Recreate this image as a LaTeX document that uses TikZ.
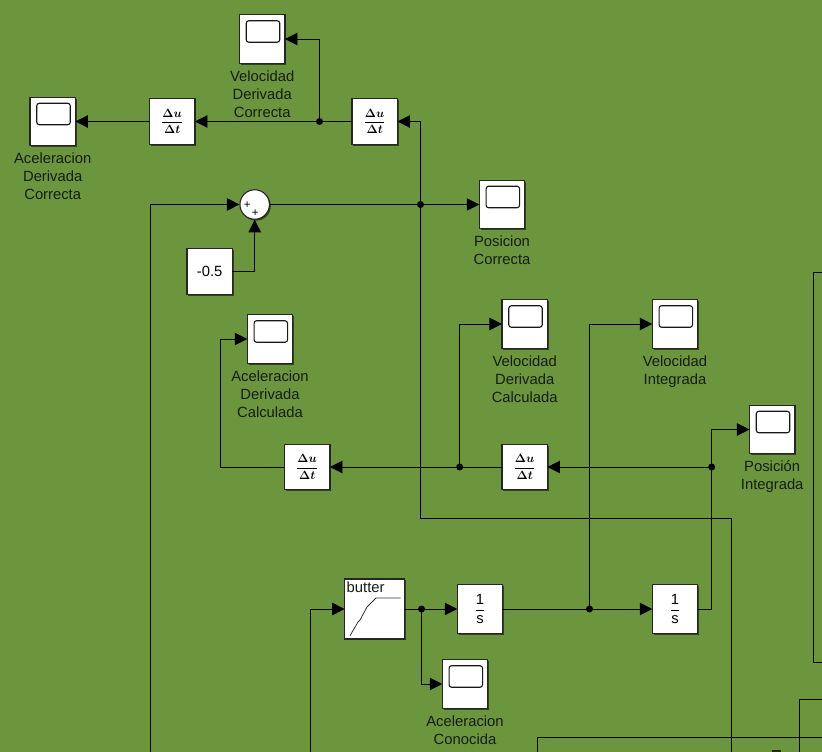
\documentclass[tikz,border=0pt]{standalone}
\usepackage{amsmath}
\usepackage{fontspec}
\setmainfont{Liberation Sans}
\usepackage{tikz}
\usetikzlibrary{arrows.meta,shadows}
\definecolor{SimBack}{RGB}{108,150,62}
\definecolor{SimText}{RGB}{22,28,18}
\newcommand{\dudt}{\fontsize{11.5}{13}\selectfont$\displaystyle\frac{\boldsymbol{\Delta u}}{\boldsymbol{\Delta t}}$}
\newcommand{\oneovers}{$\displaystyle\frac{\text{1}}{\text{s}}$}
\begin{document}
\begin{tikzpicture}[x=1pt,y=-1pt,font=\fontsize{14.8}{18}\selectfont,
   blockbox/.style={draw=black!85,fill=white,line width=1.1pt,inner sep=0pt,outer sep=0pt,rectangle,
      minimum width=45.5pt,minimum height=45.5pt,
      drop shadow={shadow xshift=1.4pt,shadow yshift=-1.4pt,opacity=0.55,fill=black}},
   scopebox/.style={blockbox,minimum height=48.5pt},
   screenbox/.style={draw=black!90,fill=white,line width=1.1pt,rounded corners=2.5pt,inner sep=0pt,
      minimum width=33.5pt,minimum height=21.5pt},
   lbl/.style={text=SimText,align=center,anchor=north,inner sep=0pt,yshift=-7pt},
   wire/.style={draw=black,line width=0.9pt},
   sig/.style={wire,-{Triangle[length=12.5pt,width=12.5pt]}},
   dot/.style={circle,fill=black,inner sep=0pt,minimum size=7pt}]
\useasboundingbox (0,0) rectangle (822,752);
\fill[SimBack] (0,0) rectangle (822,752);
% scopes
\foreach \nm/\cx/\cy/\txt in %
{velcor/262.2/39/{Velocidad\\Derivada\\Correcta},
 acccor/52.7/121.5/{Aceleracion\\Derivada\\Correcta},
 poscor/502/204.5/{Posicion\\Correcta},
 acccal/270/339/{Aceleracion\\Derivada\\Calculada},
 velcal/524.7/324/{Velocidad\\Derivada\\Calculada},
 velint/675/324/{Velocidad\\Integrada},
 posint/772.2/429.5/{Posición\\Integrada},
 acccon/465/684/{Aceleracion\\Conocida}} {
   \node[scopebox](\nm) at (\cx,\cy) {};
   \node[screenbox](\nm-screen) at (\cx+0.8,\cy-7.5) {};
   \node[lbl](\nm-label) at (\nm.south) {\txt};
}
% derivative blocks
\foreach \nm/\cx/\cy in %
{dera/172.2/121.5,derb/374.7/121.5,derc/307.2/467,derd/524.7/467} {
   \node[blockbox](\nm) at (\cx,\cy) {\dudt};
}
% integrators
\node[blockbox,minimum height=48.5pt](inta) at (480,609) {\oneovers};
\node[blockbox,minimum height=48.5pt](intb) at (675,609) {\oneovers};
\node[blockbox](cst) at (209.7,271.5) {-0.5};
\node[circle,draw=black!85,fill=white,line width=1.1pt,inner sep=0pt,minimum size=29.5pt,
   drop shadow={shadow xshift=1.4pt,shadow yshift=-1.4pt,opacity=0.55,fill=black}](sum) at (254.7,204.5) {};
\node[inner sep=0pt,font=\fontsize{11.5}{12}\selectfont](plusa) at (247.3,205) {+};
\node[inner sep=0pt,font=\fontsize{11.5}{12}\selectfont](plusb) at (255.3,212.7) {+};
% filter
\node[blockbox,minimum width=60pt,minimum height=60pt](filt) at (374.6,609) {};
\node[inner sep=0pt,anchor=west,text=SimText](filt-label) at (346.5,587) {butter};
\draw[line width=0.8pt,black!80] (350,635.7) -- (358,622) -- (360,620) -- (367,607) -- (369,605) -- (376,598) -- (400.7,598);
% junctions
\node[dot](ja) at (319.5,121.5) {};
\node[dot](jb) at (420.5,204.5) {};
\node[dot](jc) at (459.7,467) {};
\node[dot](jd) at (711.7,467) {};
\node[dot](je) at (421.5,609) {};
\node[dot](jf) at (589.5,609) {};
% free ends
\coordinate (enda) at (150.5,752);
\coordinate (endb) at (310,752);
\coordinate (endc) at (731,752);
\coordinate (endd) at (799.5,752);
\coordinate (ende) at (537.5,752);
\coordinate (rta) at (822,272.5);
\coordinate (rtb) at (822,662);
\coordinate (rtc) at (822,699.5);
\coordinate (rtd) at (822,737.5);
\coordinate (tka) at (772,751);
\coordinate (tkb) at (780.5,751);
% wires
\draw[sig] (derb.west) -- (dera.east);
\draw[sig] (dera.west) -- (acccor.east);
\draw[sig] (ja.center) |- (velcor.east);
\draw[wire] (jb.center) -- (sum.east);
\draw[sig] (jb.center) -- (poscor.west);
\draw[sig] (jb.center) |- (derb.east);
\draw[wire] (jb.center) -- (420.5,518.5) -| (endc);
\draw[sig] (enda) |- (sum.west);
\draw[sig] (cst.east) -| (sum.south);
\draw[sig] (derd.west) -- (derc.east);
\draw[sig] (jc.center) |- (velcal.west);
\draw[sig] (derc.west) -- (220.5,467) |- (acccal.west);
\draw[sig] (jd.center) -- (derd.east);
\draw[sig] (jd.center) |- (posint.west);
\draw[wire] (intb.east) -| (jd.center);
\draw[sig] (endb) |- (filt.west);
\draw[wire] (filt.east) -- (je.center);
\draw[sig] (je.center) -- (inta.west);
\draw[sig] (je.center) |- (acccon.west);
\draw[wire] (inta.east) -- (jf.center);
\draw[sig] (jf.center) -- (intb.west);
\draw[sig] (jf.center) |- (velint.west);
\draw[wire] (rta) -- (813.5,272.5) -- (813.5,662) -- (rtb);
\draw[wire] (rtc) -| (endd);
\draw[wire] (rtd) -| (ende);
\draw[line width=1.2pt,black!85] (tka) -- (tkb);
\end{tikzpicture}
\end{document}
